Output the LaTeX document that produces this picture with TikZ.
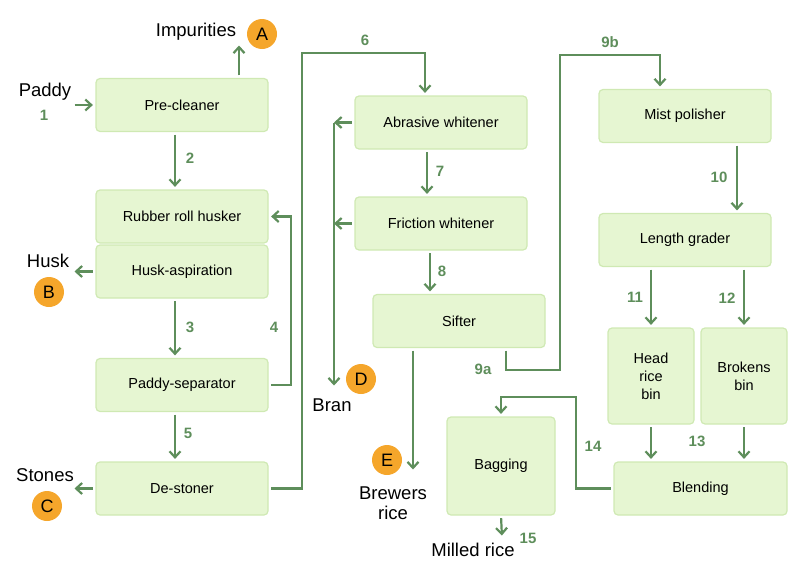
\documentclass[tikz,border=0pt]{standalone}
\usepackage{fontspec}
\setmainfont{Liberation Sans}
\usetikzlibrary{arrows.meta}
\definecolor{boxfill}{HTML}{E6F6D2}
\definecolor{boxline}{HTML}{CFE9B3}
\definecolor{flowgreen}{HTML}{5E8E5B}
\definecolor{dotorange}{HTML}{F5A62B}
\begin{document}
\begin{tikzpicture}[x=1pt, y=-1pt,
    box/.style={draw=boxline, fill=boxfill, line width=1.2pt, rounded
      corners=4pt, minimum width=172pt, minimum height=53pt, inner sep=0pt,
      align=center, font=\fontsize{14.5}{18}\selectfont},
    lab/.style={font=\fontsize{18.5}{20}\selectfont, align=center},
    num/.style={text=flowgreen, font=\fontsize{15}{17}\selectfont\bfseries},
    letter/.style={circle, fill=dotorange, minimum size=30pt, inner sep=0pt,
      font=\fontsize{18}{20}\selectfont}]
    \useasboundingbox (0,0) rectangle (800,573);

    \begin{scope}[every node/.style={box}]
      \node (pre) at (182,105) {Pre-cleaner}; \node (husker) at
      (182,216.5) {Rubber roll husker}; \node (asp) at (182,271.5)
      {Husk-aspiration}; \node (sep) at (182,385) {Paddy-separator};
      \node (stoner) at (182,488.5) {De-stoner}; \node (abr) at
      (441,122.5) {Abrasive whitener}; \node (fric) at (441,223.5)
      {Friction whitener}; \node (sifter) at (459,321) {Sifter};
      \node (mist) at (685,116) {Mist polisher}; \node (grader) at
      (685,240) {Length grader}; \node [minimum width=86pt, minimum
      height=96pt] (head) at (651,376) {Head\\rice\\bin}; \node
      [minimum width=86pt, minimum height=96pt] (brk) at (744,376)
      {Brokens\\bin}; \node [minimum width=173pt] (blend) at
      (700.5,488.5) {Blending}; \node [minimum width=108pt, minimum
      height=98pt] (bag) at (501,466) {Bagging};
    \end{scope}

    % outputs
    \node [lab] (imp) at (196,32) {Impurities}; \node [letter] (A) at
    (262,34) {A}; \node [lab] (paddy) at (45,92) {Paddy}; \node [lab]
    (husk) at (48,261) {Husk}; \node [letter] (B) at (49,292) {B};
    \node [lab] (stones) at (45,475) {Stones}; \node [letter] (C) at
    (47,506) {C}; \node [lab] (bran) at (332,405) {Bran}; \node
    [letter] (D) at (361,379) {D}; \node [lab] (brewers) at (393,503)
    {Brewers\\rice}; \node [letter] (E) at (387,460) {E}; \node [lab]
    (milled) at (473,550) {Milled rice};

    % stream numbers
    \node [num] (n1) at (44,115) {1}; \node [num] (n2) at (190,158)
    {2}; \node [num] (n3) at (190,327) {3}; \node [num] (n4) at
    (274,327) {4}; \node [num] (n5) at (188,433) {5}; \node [num] (n6)
    at (365,40) {6}; \node [num] (n7) at (440,171) {7}; \node [num]
    (n8) at (442,271) {8}; \node [num] (n9a) at (483,369) {9a}; \node
    [num] (n9b) at (610,42) {9b}; \node [num] (n10) at (719,177)
    {10}; \node [num] (n11) at (635,297) {11}; \node [num] (n12) at
    (727,298) {12}; \node [num] (n13) at (697,441) {13}; \node [num]
    (n14) at (593,446) {14}; \node [num] (n15) at (528,538) {15};

    \coordinate (in) at (72,105); \coordinate (aout) at (239,43);
    \coordinate (bout) at (72,271.5); \coordinate (cout) at
    (72,488.5); \coordinate (c6) at (302,53); \coordinate (dtop) at
    (334,122.5); \coordinate (dmid) at (334,223.5); \coordinate (dbot)
    at (334,388); \coordinate (eout) at (413,472); \coordinate (c9a)
    at (560,370); \coordinate (c9b) at (560,55); \coordinate (c14) at
    (576,397); \coordinate (fout) at (502,538);

    \begin{scope}[->, >={Straight Barb[length=6pt,width=11pt]},
      line width=2.2pt, draw=flowgreen, shorten <=2.5pt, shorten
      >=2.5pt]
      \draw (in) -- (pre.west); \draw ([xshift=57pt]pre.north) --
      (aout); \draw ([xshift=-7pt]pre.south) --
      ([xshift=-7pt]husker.north); \draw (asp.west) -- (bout); \draw
      ([xshift=-7pt]asp.south) -- ([xshift=-7pt]sep.north); \draw
      (sep.east) -- ++(22,0) |- (husker.east); \draw
      ([xshift=-7pt]sep.south) -- ([xshift=-7pt]stoner.north); \draw
      (stoner.west) -- (cout); \draw (stoner.east) -| (c6) -|
      ([xshift=-16pt]abr.north); \draw ([xshift=-14pt]abr.south) --
      ([xshift=-14pt]fric.north); \draw [shorten >=0pt] (abr.west) --
      (dtop); \draw [shorten >=0pt] (fric.west) -- (dmid); \draw
      [shorten <=0pt] (dtop) -- (dbot); \draw
      ([xshift=-11pt]fric.south) -- ([xshift=-11pt]fric.south |-
      sifter.north); \draw ([xshift=-46pt]sifter.south) -- (eout);
      \draw ([xshift=47pt]sifter.south) |- (c9a) -- (c9b) -|
      ([xshift=-25pt]mist.north); \draw ([xshift=52pt]mist.south) --
      ([xshift=52pt]grader.north); \draw (head.north |- grader.south)
      -- (head.north); \draw (brk.north |- grader.south) --
      (brk.north); \draw (head.south) -- (head.south |- blend.north);
      \draw (brk.south) -- (brk.south |- blend.north); \draw
      (blend.west) -| (c14) -| (bag.north); \draw (bag.south) --
      (fout);
    \end{scope}

  \end{tikzpicture}
\end{document}
